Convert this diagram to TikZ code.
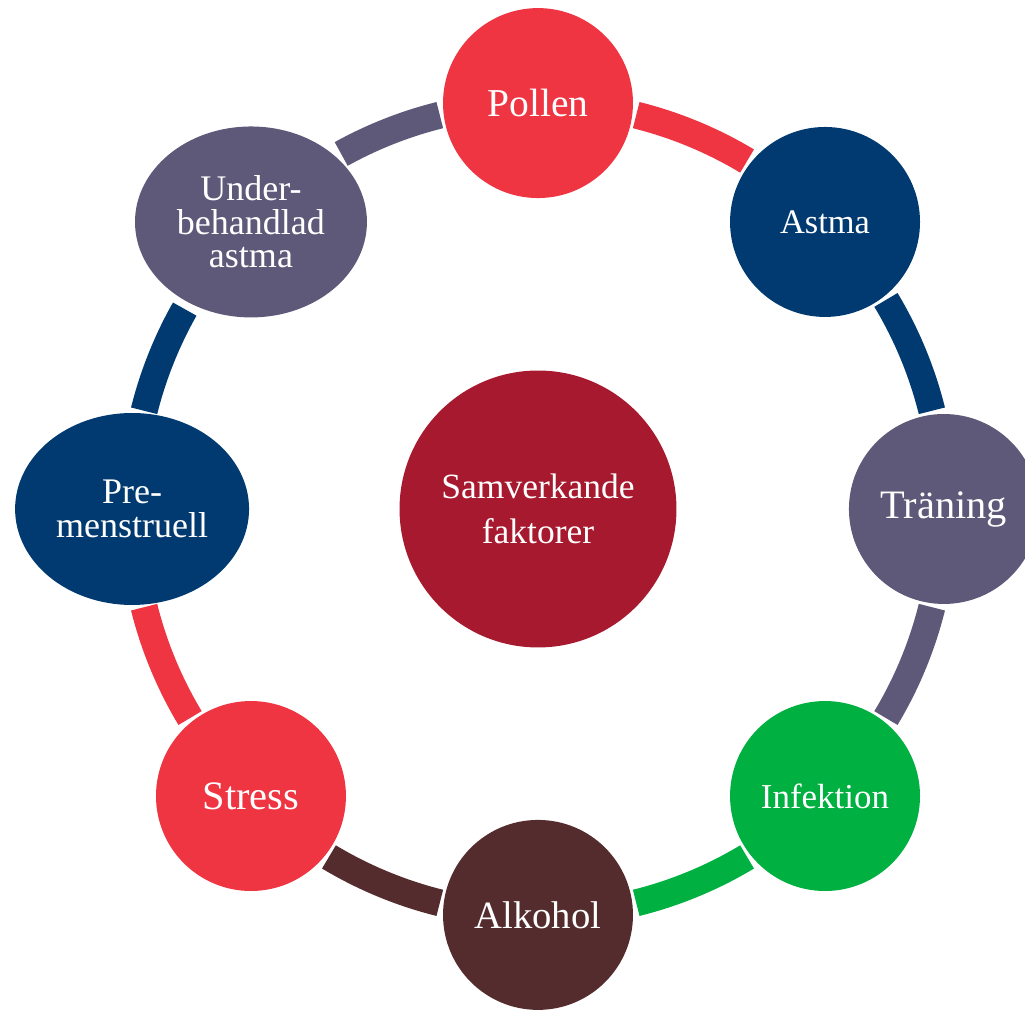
\documentclass[tikz,border=0pt]{standalone}
\usepackage{fontspec}
\setmainfont{Liberation Serif}
\usetikzlibrary{shapes.geometric}
\definecolor{cred}{HTML}{EF3442}
\definecolor{cnavy}{HTML}{003A70}
\definecolor{cpurple}{HTML}{5E5879}
\definecolor{cgreen}{HTML}{00B040}
\definecolor{cbrown}{HTML}{552C2D}
\definecolor{cdark}{HTML}{A6192E}
\tikzset{
  ringnode/.style={circle, minimum size=3.8cm, inner sep=0pt, text=white, align=center},
  ringell/.style={ellipse, minimum width=4.68cm, minimum height=3.84cm, inner sep=0pt, text=white, align=center},
  ringarc/.style={line width=0.54cm},
  fs/.style={font=\fontsize{#1}{#1}\selectfont}
}
\begin{document}
\begin{tikzpicture}[x=0.02cm,y=0.02cm]
\useasboundingbox (0,0) rectangle (1025,1010);
\def\R{8.12cm}
\node[circle, fill=cdark, minimum size=5.54cm, inner sep=0pt, text=white, align=center,
      font=\fontsize{20.2}{25.6}\selectfont] (c) at (538,501) {Samverkande\\faktorer};
% arcs
\draw[ringarc, cred]    (c.center) ++(76:\R)    arc[start angle=76,    end angle=59,    radius=\R];
\draw[ringarc, cnavy]   (c.center) ++(31:\R)    arc[start angle=31,    end angle=14,    radius=\R];
\draw[ringarc, cpurple] (c.center) ++(-14:\R)   arc[start angle=-14,   end angle=-31,   radius=\R];
\draw[ringarc, cgreen]  (c.center) ++(-59:\R)   arc[start angle=-59,   end angle=-76,   radius=\R];
\draw[ringarc, cbrown]  (c.center) ++(-104:\R)  arc[start angle=-104,  end angle=-121,  radius=\R];
\draw[ringarc, cred]    (c.center) ++(-149:\R)  arc[start angle=-149,  end angle=-166,  radius=\R];
\draw[ringarc, cnavy]   (c.center) ++(166:\R)   arc[start angle=166,   end angle=150.5, radius=\R];
\draw[ringarc, cpurple] (c.center) ++(119:\R)   arc[start angle=119,   end angle=104,   radius=\R];
% nodes
\path (c.center) ++(90:\R)   node[ringnode, fill=cred,    fs=22.5] (pollen) {Pollen};
\path (c.center) ++(45:\R)   node[ringnode, fill=cnavy,   fs=19.6] (astma) {Astma};
\path (c.center) ++(0:\R)    node[ringnode, fill=cpurple, fs=23]   (traning) {Träning};
\path (c.center) ++(-45:\R)  node[ringnode, fill=cgreen,  fs=19.9] (infektion) {Infektion};
\path (c.center) ++(-90:\R)  node[ringnode, fill=cbrown,  fs=22]   (alkohol) {Alkohol};
\path (c.center) ++(-135:\R) node[ringnode, fill=cred,    fs=23]   (stress) {Stress};
\path (c.center) ++(180:\R)  node[ringell,  fill=cnavy, font=\fontsize{20.5}{19.5}\selectfont] (pre) {Pre-\\menstruell};
\path (c.center) ++(135:\R)  node[ringell,  fill=cpurple, minimum width=4.64cm, minimum height=3.82cm, font=\fontsize{20.5}{19}\selectfont] (under) {Under-\\behandlad\\astma};
\end{tikzpicture}
\end{document}
